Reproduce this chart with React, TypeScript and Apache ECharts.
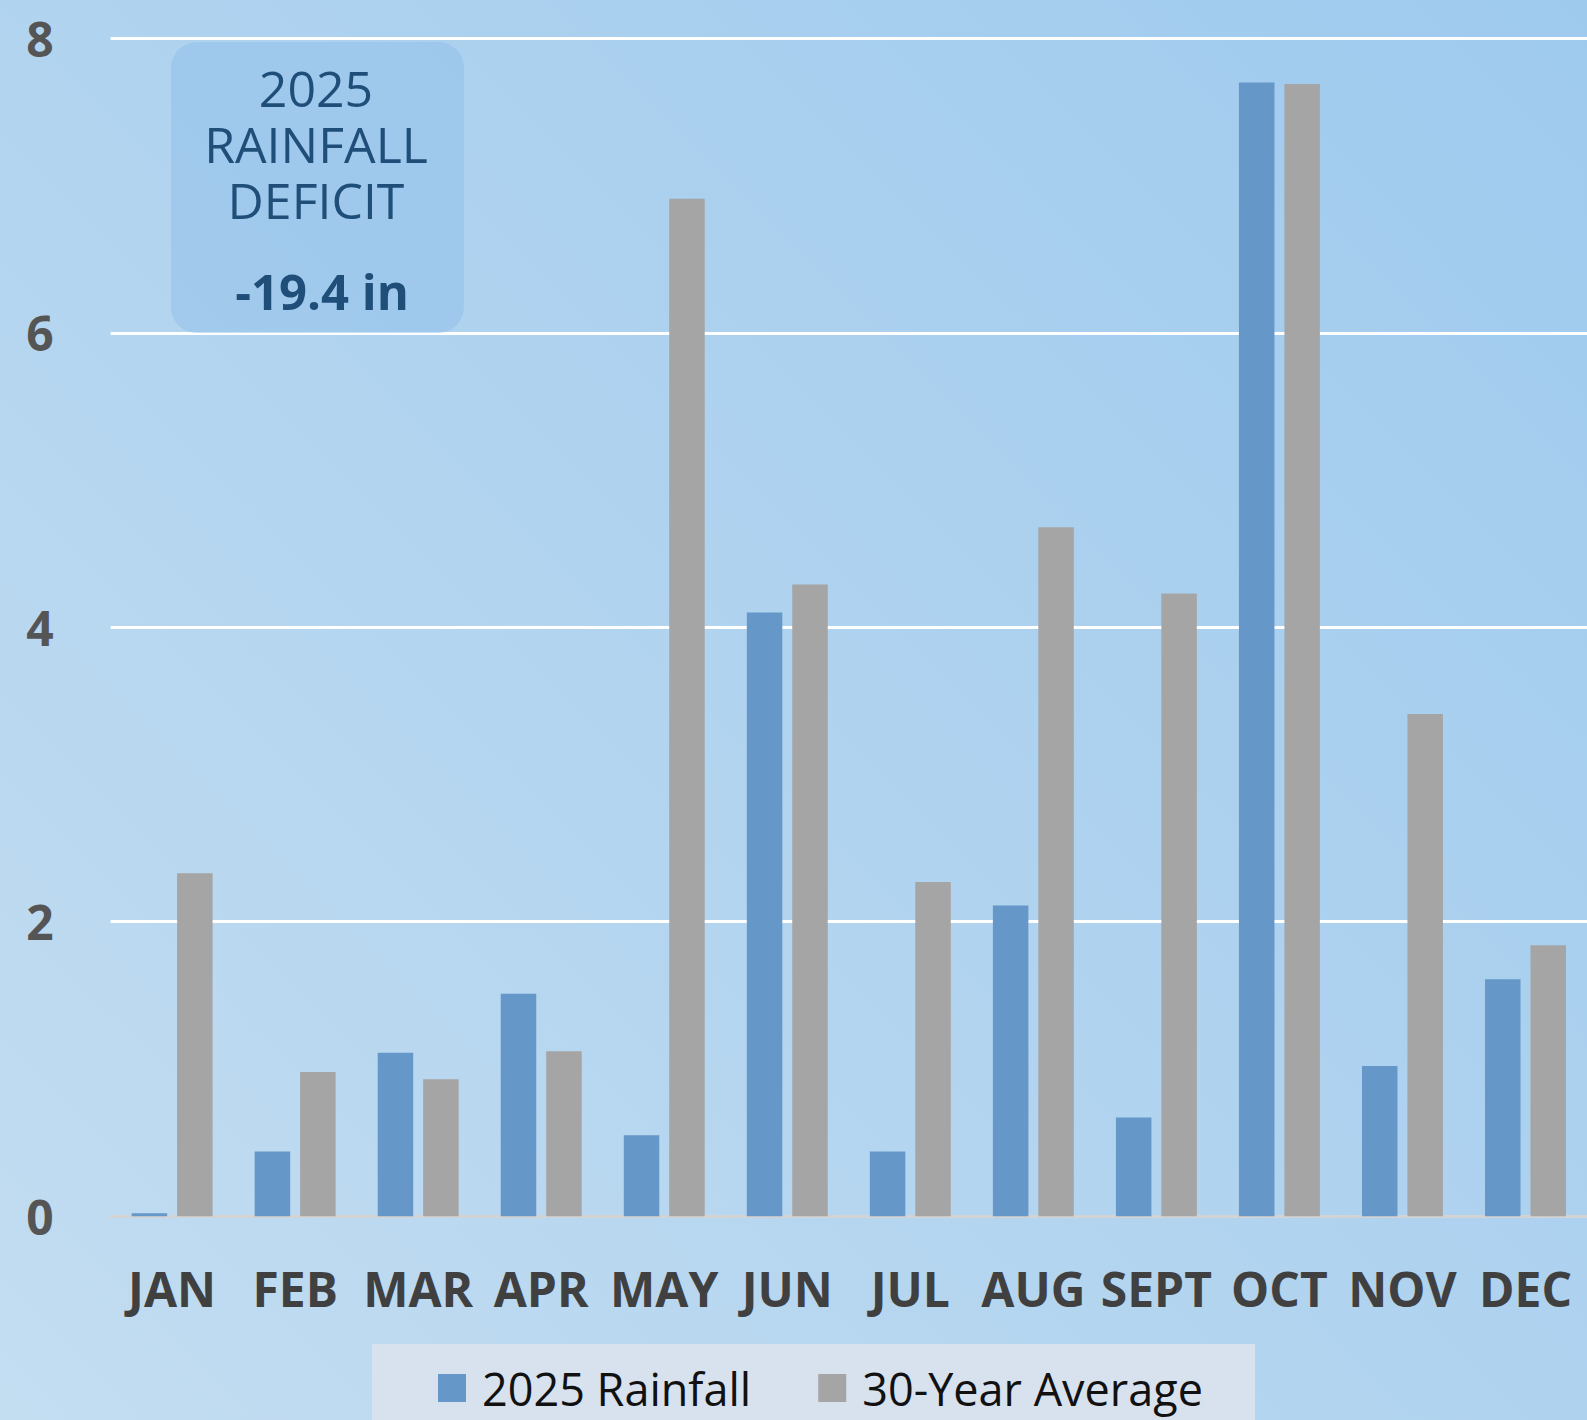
import React, { useEffect, useRef } from "react";
import * as echarts from "echarts";

const months = ["JAN", "FEB", "MAR", "APR", "MAY", "JUN", "JUL", "AUG", "SEPT", "OCT", "NOV", "DEC"];
const rainfall2025 = [0.02, 0.44, 1.11, 1.51, 0.55, 4.1, 0.44, 2.11, 0.67, 7.7, 1.02, 1.61];
const average30 = [2.33, 0.98, 0.93, 1.12, 6.91, 4.29, 2.27, 4.68, 4.23, 7.69, 3.41, 1.84];
const seriesNames = ["2025 Rainfall", "30-Year Average"];
const yMin = 0;
const yMax = 8;
const yInterval = 2;
const boxLines = ["2025", "RAINFALL", "DEFICIT"];
const deficitText = "-19.4 in";

export default function App() {
  const ref = useRef<HTMLDivElement>(null);

  useEffect(() => {
    if (!ref.current) return;
    const chart = echarts.init(ref.current, null, { renderer: "svg" });
    const boxCx = 316;
    const option: any = {
      animation: false,
      backgroundColor: "transparent",
      grid: { left: 110.6, right: 0, top: 38.3, bottom: 203.8, containLabel: false },
      xAxis: {
        type: "category",
        data: months,
        axisLine: { show: true, lineStyle: { color: "#d3d3d3", width: 3 } },
        axisTick: { show: false },
        axisLabel: {
          interval: 0,
          margin: 48,
          color: "#404040",
          fontFamily: "Open Sans",
          fontWeight: "bold",
          fontSize: 48,
        },
        splitLine: { show: false },
      },
      yAxis: {
        type: "value",
        min: yMin,
        max: yMax,
        interval: yInterval,
        axisLine: { show: false },
        axisTick: { show: false },
        axisLabel: {
          margin: 57,
          color: "#555555",
          fontFamily: "Open Sans",
          fontWeight: "bold",
          fontSize: 48,
        },
        splitLine: { show: true, lineStyle: { color: "#ffffff", width: 3 } },
      },
      legend: {
        data: seriesNames,
        left: 372,
        top: 1344,
        padding: [20, 52, 30, 66],
        backgroundColor: "#d8e2ef",
        itemWidth: 28,
        itemHeight: 28,
        itemGap: 67,
        icon: "rect",
        textStyle: {
          fontFamily: "Open Sans",
          fontSize: 45,
          lineHeight: 48,
          color: "#111111",
          padding: [0, 0, 0, 11],
        },
      },
      series: [
        {
          name: seriesNames[0],
          type: "bar",
          data: rainfall2025,
          barWidth: 35.5,
          barGap: "28%",
          itemStyle: { color: "#6597c8" },
        },
        {
          name: seriesNames[1],
          type: "bar",
          data: average30,
          barWidth: 35.5,
          barGap: "28%",
          itemStyle: { color: "#a5a5a5" },
        },
      ],
      graphic: [
        {
          type: "rect",
          shape: { x: 171, y: 42, width: 293, height: 291, r: 26 },
          style: { fill: "rgba(140,188,232,0.45)" },
          z: 10,
        },
        {
          type: "text",
          x: boxCx,
          y: 144,
          z: 11,
          style: {
            text: boxLines.join("\n"),
            fontFamily: "Open Sans",
            fontSize: 50,
            lineHeight: 56.3,
            fill: "#1f4e79",
            align: "center",
            verticalAlign: "middle",
          },
        },
        {
          type: "text",
          x: boxCx + 6,
          y: 291,
          z: 11,
          style: {
            text: deficitText,
            fontFamily: "Open Sans",
            fontWeight: "bold",
            fontSize: 49,
            lineHeight: 52,
            fill: "#1f4e79",
            align: "center",
            verticalAlign: "middle",
          },
        },
      ],
    };
    chart.setOption(option);
    return () => chart.dispose();
  }, []);

  return (
    <div
      ref={ref}
      style={{
        position: "fixed",
        left: 0,
        top: 0,
        width: 1587,
        height: 1420,
        background: "linear-gradient(225deg, #9ecaee 0%, #b0d3ef 50%, #c3ddf1 100%)",
      }}
    />
  );
}
